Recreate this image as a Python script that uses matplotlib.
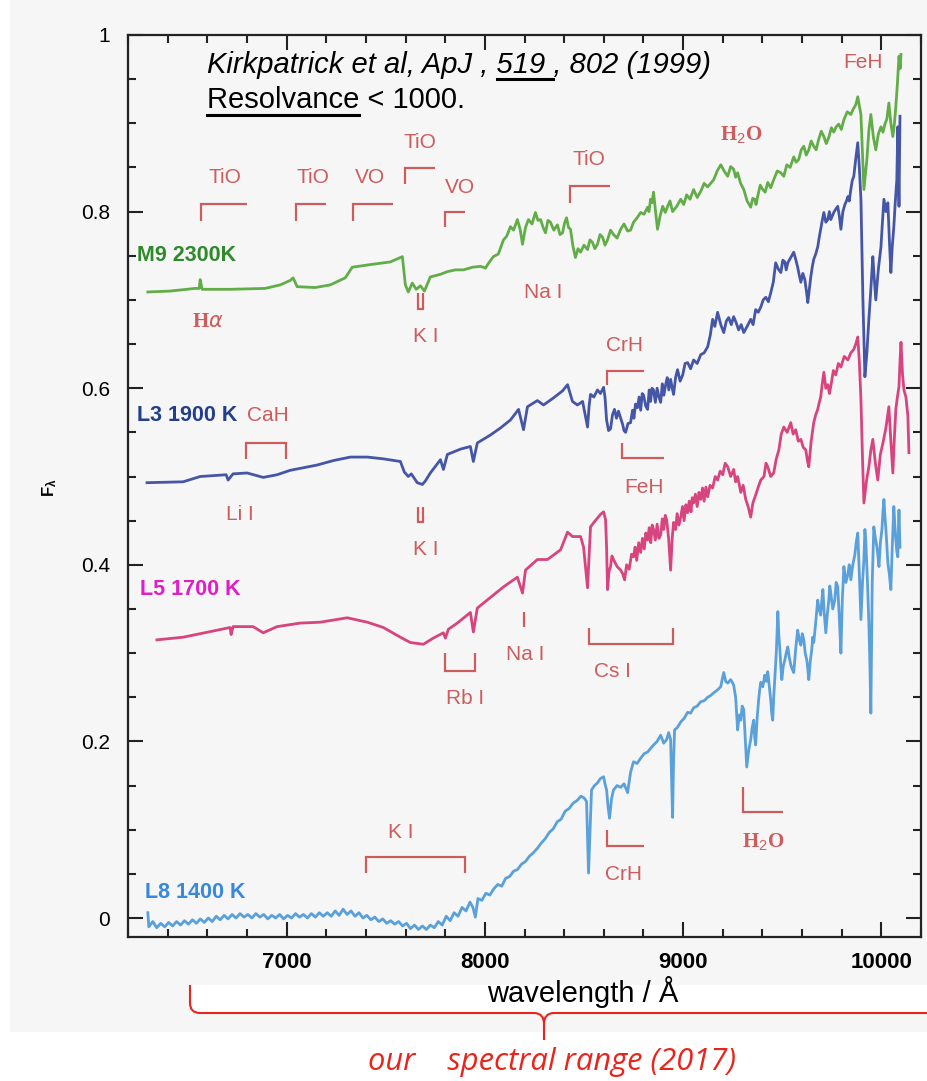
import matplotlib
matplotlib.use("Agg")
import matplotlib.pyplot as plt
from matplotlib.patches import Rectangle, PathPatch
from matplotlib.path import Path
from matplotlib.lines import Line2D
from matplotlib.ticker import MultipleLocator, FuncFormatter

plt.rcParams['font.family'] = ['Liberation Sans', 'DejaVu Sans']
plt.rcParams['mathtext.fontset'] = 'custom'
plt.rcParams['mathtext.rm'] = 'Liberation Sans'
plt.rcParams['mathtext.bf'] = 'Liberation Sans:bold'

# ---------------- spectra: (wavelength [Angstrom], normalised flux) ----------------
m9_spec = [
    (6300, 0.709), (6412, 0.710), (6538, 0.713), (6559, 0.713), (6564, 0.723), (6574, 0.712),
    (6715, 0.712), (6892, 0.713), (6968, 0.717), (7018, 0.722), (7033, 0.725), (7053, 0.715),
    (7144, 0.714), (7220, 0.717), (7296, 0.725), (7331, 0.737), (7422, 0.740), (7523, 0.743),
    (7584, 0.749), (7599, 0.717), (7614, 0.709), (7634, 0.719), (7654, 0.712), (7675, 0.716),
    (7695, 0.710), (7725, 0.726), (7776, 0.729), (7811, 0.732), (7851, 0.734), (7892, 0.734),
    (7937, 0.737), (7978, 0.738),
    (8003, 0.736), (8020, 0.742), (8043, 0.749), (8068, 0.752), (8094, 0.768), (8110, 0.772),
    (8129, 0.783), (8145, 0.779), (8164, 0.791), (8178, 0.780), (8190, 0.763), (8205, 0.782),
    (8220, 0.791), (8238, 0.786), (8255, 0.799), (8268, 0.790), (8281, 0.791), (8294, 0.782),
    (8306, 0.776), (8318, 0.790), (8331, 0.788), (8348, 0.779), (8366, 0.785), (8379, 0.774),
    (8392, 0.776), (8402, 0.787), (8412, 0.793), (8422, 0.782), (8432, 0.780), (8445, 0.760),
    (8457, 0.748), (8470, 0.758), (8483, 0.754), (8500, 0.762), (8518, 0.757), (8530, 0.768),
    (8543, 0.765), (8555, 0.758), (8568, 0.763), (8581, 0.774), (8594, 0.771), (8606, 0.762),
    (8619, 0.768), (8634, 0.779), (8649, 0.774), (8667, 0.770), (8685, 0.780), (8702, 0.786),
    (8720, 0.778), (8735, 0.779), (8750, 0.788), (8768, 0.793), (8786, 0.799), (8803, 0.797),
    (8821, 0.805), (8828, 0.800), (8836, 0.814), (8843, 0.810), (8851, 0.822), (8861, 0.800),
    (8871, 0.780), (8884, 0.795), (8897, 0.806), (8910, 0.799), (8922, 0.806), (8934, 0.812),
    (8947, 0.800), (8968, 0.806), (8988, 0.814), (9003, 0.808), (9018, 0.819), (9035, 0.814),
    (9053, 0.825), (9071, 0.816), (9089, 0.823), (9106, 0.832), (9124, 0.828), (9139, 0.832),
    (9154, 0.836), (9172, 0.846), (9190, 0.853), (9207, 0.846), (9225, 0.840), (9240, 0.851),
    (9255, 0.848), (9265, 0.839), (9275, 0.844), (9290, 0.832), (9306, 0.825), (9323, 0.812),
    (9341, 0.805), (9351, 0.815), (9361, 0.814), (9368, 0.808), (9376, 0.817), (9389, 0.830),
    (9402, 0.825), (9414, 0.822), (9427, 0.833), (9442, 0.827), (9457, 0.836), (9475, 0.846),
    (9493, 0.844), (9508, 0.840), (9523, 0.853), (9540, 0.850), (9558, 0.862), (9570, 0.856),
    (9583, 0.859), (9596, 0.870), (9609, 0.874), (9621, 0.864), (9634, 0.870), (9646, 0.880),
    (9659, 0.874), (9671, 0.870), (9684, 0.882), (9697, 0.891), (9710, 0.885), (9722, 0.877),
    (9735, 0.884), (9748, 0.895), (9760, 0.890), (9772, 0.896), (9785, 0.899), (9798, 0.893),
    (9811, 0.904), (9828, 0.913), (9846, 0.910), (9858, 0.916), (9871, 0.921), (9881, 0.930),
    (9897, 0.910), (9912, 0.825), (9927, 0.859), (9937, 0.892), (9947, 0.910), (9960, 0.884),
    (9972, 0.870), (9985, 0.888), (9998, 0.896), (10008, 0.890), (10018, 0.899), (10028, 0.905),
    (10038, 0.923), (10048, 0.900), (10058, 0.885), (10066, 0.900), (10073, 0.919),
    (10081, 0.945), (10089, 0.976), (10095, 0.962), (10099, 0.978),
]

l3_spec = [
    (6296, 0.493), (6478, 0.494), (6564, 0.500), (6695, 0.502), (6705, 0.496), (6730, 0.503),
    (6801, 0.504), (6882, 0.499), (6952, 0.502), (7018, 0.507), (7154, 0.513), (7235, 0.518),
    (7321, 0.522), (7407, 0.522), (7488, 0.520), (7574, 0.517), (7594, 0.505), (7614, 0.500),
    (7629, 0.503), (7659, 0.493), (7685, 0.491), (7700, 0.495), (7725, 0.504), (7776, 0.519),
    (7791, 0.508), (7811, 0.525), (7877, 0.531), (7927, 0.534), (7942, 0.517), (7962, 0.538),
    (8028, 0.547), (8079, 0.555), (8129, 0.564), (8170, 0.576), (8195, 0.553), (8215, 0.579),
    (8265, 0.586), (8296, 0.581), (8346, 0.589), (8392, 0.597), (8417, 0.604), (8442, 0.585),
    (8467, 0.581), (8493, 0.585),
    (8518, 0.556), (8526, 0.580), (8533, 0.593), (8550, 0.590), (8568, 0.598), (8583, 0.594),
    (8599, 0.601), (8606, 0.590), (8614, 0.564), (8624, 0.552), (8634, 0.554), (8644, 0.570),
    (8654, 0.576), (8664, 0.566), (8674, 0.574), (8685, 0.566), (8695, 0.559), (8702, 0.552),
    (8710, 0.550), (8722, 0.560), (8735, 0.561), (8745, 0.575), (8752, 0.566), (8760, 0.582),
    (8770, 0.578), (8778, 0.590), (8786, 0.575), (8794, 0.594), (8801, 0.592), (8811, 0.580),
    (8821, 0.576), (8829, 0.598), (8836, 0.585), (8843, 0.600), (8851, 0.598), (8860, 0.584),
    (8869, 0.600), (8878, 0.590), (8887, 0.584), (8895, 0.605), (8903, 0.592), (8912, 0.604),
    (8920, 0.612), (8928, 0.598), (8937, 0.610), (8945, 0.600), (8952, 0.593), (8962, 0.612),
    (8972, 0.621), (8985, 0.608), (8998, 0.615), (9010, 0.628), (9023, 0.629), (9038, 0.622),
    (9053, 0.632), (9071, 0.628), (9089, 0.638), (9106, 0.640), (9124, 0.647), (9137, 0.660),
    (9149, 0.678), (9160, 0.670), (9174, 0.686), (9190, 0.672), (9205, 0.663), (9218, 0.676),
    (9230, 0.680), (9243, 0.672), (9255, 0.681), (9268, 0.674), (9280, 0.666), (9293, 0.672),
    (9306, 0.663), (9323, 0.670), (9341, 0.678), (9353, 0.672), (9366, 0.689), (9379, 0.686),
    (9392, 0.692), (9404, 0.700), (9417, 0.703), (9430, 0.698), (9442, 0.708), (9455, 0.720),
    (9467, 0.742), (9480, 0.735), (9493, 0.731), (9503, 0.745), (9513, 0.743), (9520, 0.734),
    (9528, 0.742), (9543, 0.748), (9558, 0.754), (9568, 0.746), (9578, 0.737), (9586, 0.728),
    (9594, 0.720), (9604, 0.730), (9614, 0.723), (9622, 0.710), (9629, 0.697), (9637, 0.712),
    (9644, 0.726), (9652, 0.738), (9659, 0.746), (9669, 0.752), (9679, 0.760), (9686, 0.770),
    (9694, 0.780), (9702, 0.790), (9710, 0.799), (9720, 0.788), (9730, 0.791), (9738, 0.800),
    (9745, 0.791), (9762, 0.800), (9780, 0.806), (9788, 0.795), (9796, 0.780), (9806, 0.800),
    (9816, 0.808), (9824, 0.812), (9831, 0.817), (9838, 0.812), (9846, 0.825), (9853, 0.835),
    (9861, 0.840), (9871, 0.860), (9881, 0.878), (9889, 0.850), (9897, 0.814), (9907, 0.700),
    (9917, 0.613), (9927, 0.640), (9937, 0.678), (9947, 0.712), (9957, 0.749), (9964, 0.725),
    (9972, 0.700), (9985, 0.735), (9998, 0.760), (10006, 0.790), (10013, 0.814),
    (10023, 0.800), (10033, 0.810), (10040, 0.770), (10048, 0.731), (10055, 0.760),
    (10063, 0.783), (10070, 0.810), (10078, 0.836), (10083, 0.896), (10089, 0.806),
    (10094, 0.908),
]

l5_spec = [
    (6346, 0.315), (6478, 0.318), (6649, 0.326), (6715, 0.329), (6720, 0.321), (6730, 0.330),
    (6831, 0.330), (6882, 0.323), (6952, 0.330), (7069, 0.334), (7170, 0.335), (7306, 0.340),
    (7407, 0.335), (7488, 0.329), (7574, 0.318), (7624, 0.312), (7690, 0.310), (7740, 0.317),
    (7791, 0.323), (7801, 0.317), (7816, 0.327), (7861, 0.334), (7927, 0.346), (7942, 0.324),
    (7962, 0.351), (8028, 0.363), (8094, 0.375), (8164, 0.386), (8190, 0.368), (8205, 0.394),
    (8265, 0.406), (8316, 0.406), (8382, 0.417), (8417, 0.437), (8442, 0.432), (8483, 0.432),
    (8498, 0.420), (8518, 0.374),
    (8533, 0.443), (8550, 0.448), (8568, 0.453), (8583, 0.457), (8599, 0.460), (8609, 0.451),
    (8614, 0.420), (8619, 0.372), (8626, 0.392), (8634, 0.398), (8641, 0.410), (8649, 0.406),
    (8667, 0.398), (8685, 0.394), (8695, 0.390), (8705, 0.383), (8715, 0.400), (8728, 0.395),
    (8740, 0.412), (8750, 0.409), (8758, 0.420), (8766, 0.405), (8776, 0.425), (8786, 0.414),
    (8795, 0.430), (8804, 0.418), (8812, 0.436), (8821, 0.428), (8829, 0.442), (8837, 0.425),
    (8844, 0.445), (8851, 0.440), (8860, 0.428), (8869, 0.446), (8878, 0.430), (8887, 0.434),
    (8895, 0.452), (8902, 0.440), (8910, 0.456), (8917, 0.451), (8927, 0.430), (8937, 0.394),
    (8945, 0.430), (8952, 0.448), (8962, 0.440), (8970, 0.458), (8979, 0.445), (8988, 0.454),
    (8997, 0.466), (9005, 0.450), (9014, 0.468), (9023, 0.459), (9031, 0.472), (9040, 0.460),
    (9046, 0.476), (9053, 0.470), (9062, 0.480), (9071, 0.466), (9080, 0.482), (9089, 0.474),
    (9098, 0.487), (9106, 0.472), (9115, 0.488), (9124, 0.477), (9136, 0.490), (9149, 0.487),
    (9162, 0.500), (9174, 0.496), (9187, 0.506), (9200, 0.502), (9212, 0.515), (9225, 0.511),
    (9240, 0.500), (9255, 0.508), (9265, 0.494), (9275, 0.500), (9291, 0.482), (9303, 0.490),
    (9316, 0.474), (9328, 0.466), (9341, 0.454), (9352, 0.470), (9366, 0.479), (9379, 0.488),
    (9392, 0.496), (9408, 0.500), (9418, 0.515), (9427, 0.511), (9442, 0.500), (9457, 0.504),
    (9470, 0.520), (9483, 0.530), (9495, 0.548), (9508, 0.556), (9525, 0.550), (9543, 0.561),
    (9555, 0.548), (9568, 0.553), (9581, 0.540), (9594, 0.542), (9606, 0.533), (9619, 0.530),
    (9627, 0.518), (9634, 0.511), (9646, 0.540), (9659, 0.561), (9669, 0.570), (9679, 0.576),
    (9686, 0.583), (9694, 0.590), (9702, 0.605), (9710, 0.618), (9720, 0.600), (9730, 0.604),
    (9738, 0.594), (9745, 0.602), (9758, 0.620), (9770, 0.615), (9783, 0.628), (9796, 0.624),
    (9813, 0.636), (9831, 0.632), (9846, 0.640), (9861, 0.644), (9871, 0.650), (9881, 0.658),
    (9889, 0.630), (9897, 0.587), (9905, 0.520), (9912, 0.470), (9925, 0.495), (9937, 0.511),
    (9947, 0.530), (9957, 0.542), (9970, 0.515), (9982, 0.496), (9995, 0.525), (10008, 0.538),
    (10023, 0.555), (10038, 0.579), (10048, 0.540), (10058, 0.504), (10066, 0.545),
    (10073, 0.576), (10081, 0.590), (10089, 0.602), (10094, 0.630), (10099, 0.652),
    (10107, 0.615), (10114, 0.598), (10124, 0.590), (10134, 0.568), (10139, 0.527),
]

l8_spec = [
    (6300, 0.006), (6305, -0.010), (6325, -0.004), (6345, -0.011), (6365, -0.006),
    (6385, -0.010), (6405, -0.005), (6425, -0.009), (6445, -0.004), (6465, -0.008),
    (6485, -0.003), (6505, -0.007), (6525, -0.002), (6545, -0.006), (6565, -0.001),
    (6585, -0.005), (6605, 0.000), (6625, -0.004), (6645, 0.002), (6665, -0.002),
    (6685, 0.003), (6705, -0.001), (6725, 0.004), (6745, 0.000), (6765, 0.005),
    (6785, 0.001), (6805, 0.004), (6825, 0.000), (6845, 0.005), (6865, 0.001),
    (6885, 0.004), (6905, -0.001), (6925, 0.003), (6945, 0.000), (6965, 0.004),
    (6985, -0.001), (7005, 0.003), (7025, 0.000), (7045, 0.005), (7065, 0.001),
    (7085, 0.004), (7105, 0.000), (7125, 0.005), (7145, 0.001), (7165, 0.006),
    (7185, 0.002), (7205, 0.006), (7225, 0.002), (7245, 0.008), (7265, 0.003),
    (7285, 0.010), (7305, 0.004), (7325, 0.008), (7345, 0.002), (7365, 0.006),
    (7385, 0.000), (7405, 0.003), (7425, -0.002), (7445, 0.001), (7465, -0.004),
    (7485, -0.001), (7505, -0.006), (7525, -0.003), (7545, -0.007), (7565, -0.004),
    (7585, -0.009), (7605, -0.006), (7625, -0.012), (7645, -0.008), (7665, -0.013),
    (7685, -0.009), (7705, -0.013), (7725, -0.008), (7745, -0.011), (7765, -0.004),
    (7785, -0.008), (7805, 0.002), (7825, -0.003), (7845, 0.006), (7865, 0.002),
    (7885, 0.012), (7905, 0.008), (7925, 0.018), (7940, 0.012), (7952, 0.001),
    (7965, 0.022), (7985, 0.020), (8005, 0.028), (8025, 0.026), (8045, 0.033),
    (8065, 0.038), (8085, 0.036), (8105, 0.045), (8125, 0.047), (8145, 0.053),
    (8165, 0.055), (8185, 0.061), (8205, 0.064), (8225, 0.070), (8245, 0.074),
    (8265, 0.079), (8285, 0.085), (8305, 0.090), (8325, 0.097), (8345, 0.101),
    (8365, 0.109), (8385, 0.112), (8405, 0.121), (8425, 0.124), (8445, 0.130),
    (8465, 0.133), (8485, 0.138), (8500, 0.136), (8513, 0.132), (8523, 0.051),
    (8538, 0.145), (8553, 0.150), (8568, 0.153), (8583, 0.158), (8599, 0.160), (8606, 0.152),
    (8614, 0.145), (8622, 0.125), (8629, 0.113), (8639, 0.135), (8649, 0.145), (8667, 0.150),
    (8685, 0.148), (8702, 0.152), (8720, 0.142), (8735, 0.165), (8750, 0.177), (8768, 0.175),
    (8786, 0.181), (8803, 0.186), (8821, 0.188), (8836, 0.192), (8851, 0.196), (8869, 0.200),
    (8887, 0.207), (8902, 0.198), (8917, 0.202), (8927, 0.210), (8937, 0.202), (8942, 0.160),
    (8947, 0.114), (8952, 0.180), (8957, 0.213), (8972, 0.216), (8988, 0.222), (9005, 0.226),
    (9023, 0.233), (9038, 0.232), (9053, 0.238), (9071, 0.240), (9089, 0.245), (9106, 0.246),
    (9124, 0.250), (9139, 0.252), (9154, 0.255), (9172, 0.258), (9190, 0.262), (9197, 0.270),
    (9205, 0.278), (9215, 0.268), (9225, 0.266), (9240, 0.270), (9255, 0.264), (9265, 0.250),
    (9275, 0.213), (9283, 0.230), (9291, 0.224), (9298, 0.240), (9306, 0.236), (9313, 0.205),
    (9321, 0.171), (9331, 0.190), (9341, 0.202), (9348, 0.215), (9356, 0.224), (9361, 0.205),
    (9366, 0.196), (9373, 0.225), (9381, 0.247), (9386, 0.258), (9392, 0.267), (9402, 0.262),
    (9412, 0.275), (9420, 0.268), (9427, 0.279), (9435, 0.262), (9442, 0.247), (9447, 0.232),
    (9452, 0.224), (9457, 0.250), (9462, 0.270), (9470, 0.300), (9478, 0.347), (9483, 0.320),
    (9488, 0.304), (9493, 0.285), (9498, 0.270), (9505, 0.285), (9513, 0.292), (9520, 0.300),
    (9528, 0.307), (9535, 0.296), (9543, 0.287), (9550, 0.282), (9558, 0.278), (9568, 0.305),
    (9578, 0.326), (9586, 0.315), (9594, 0.309), (9601, 0.322), (9609, 0.315), (9616, 0.300),
    (9624, 0.292), (9629, 0.282), (9634, 0.270), (9641, 0.290), (9649, 0.304), (9654, 0.318),
    (9659, 0.312), (9669, 0.335), (9679, 0.360), (9686, 0.350), (9694, 0.343), (9700, 0.360),
    (9705, 0.372), (9712, 0.345), (9720, 0.323), (9728, 0.345), (9735, 0.360), (9740, 0.376),
    (9745, 0.368), (9755, 0.350), (9765, 0.360), (9772, 0.380), (9780, 0.375), (9788, 0.340),
    (9796, 0.300), (9803, 0.360), (9811, 0.398), (9821, 0.380), (9831, 0.389), (9838, 0.400),
    (9846, 0.383), (9856, 0.400), (9866, 0.411), (9873, 0.425), (9881, 0.436), (9889, 0.390),
    (9897, 0.338), (9905, 0.380), (9912, 0.406), (9917, 0.440), (9922, 0.425), (9930, 0.380),
    (9937, 0.334), (9942, 0.290), (9947, 0.232), (9954, 0.380), (9962, 0.443), (9970, 0.430),
    (9977, 0.421), (9983, 0.410), (9988, 0.398), (9995, 0.425), (10003, 0.440),
    (10008, 0.460), (10013, 0.474), (10018, 0.455), (10023, 0.440), (10028, 0.420),
    (10033, 0.402), (10040, 0.390), (10048, 0.372), (10055, 0.420), (10063, 0.466),
    (10068, 0.445), (10073, 0.428), (10078, 0.415), (10083, 0.409), (10086, 0.440),
    (10089, 0.462), (10094, 0.420),
]

series_names = ["M9 2300K", "L3 1900 K", "L5 1700 K", "L8 1400 K"]
line_colors = ["#62ad48", "#4556a6", "#d8447e", "#5aa0da"]
name_colors = ["#2f8a2c", "#233f8c", "#e01ec8", "#3a88dc"]

y_ticks = [0, 0.2, 0.4, 0.6, 0.8, 1.0]
x_ticks = [7000, 8000, 9000, 10000]

# ---------------- figure ----------------
W, H = 927, 1081
fig = plt.figure(figsize=(W / 100, H / 100), dpi=100)
fig.patch.set_facecolor("white")


def fx(px):
    return px / W


def fy(py):
    return 1 - py / H


panel = "#f6f6f6"
fig.add_artist(Rectangle((fx(10), fy(985)), fx(917), 985 / H, transform=fig.transFigure,
                         facecolor=panel, edgecolor="none", zorder=0))
fig.add_artist(Rectangle((fx(10), fy(1032)), fx(180), 47 / H, transform=fig.transFigure,
                         facecolor=panel, edgecolor="none", zorder=0))
fig.add_artist(Rectangle((fx(190), fy(1032)), fx(737), 18 / H, transform=fig.transFigure,
                         facecolor=panel, edgecolor="none", zorder=0))

ax = fig.add_axes([fx(128), fy(937), fx(921 - 128), (937 - 35) / H])
ax.set_facecolor("none")
ax.set_xlim(6200, 10200)
ax.set_ylim(-0.0215, 1.0)

for spec, c in zip([m9_spec, l3_spec, l5_spec, l8_spec], line_colors):
    wl, fl = zip(*spec)
    ax.plot(wl, fl, color=c, lw=2.0, solid_joinstyle="round")

ax.set_xticks(x_ticks)
ax.set_yticks(y_ticks)
ax.xaxis.set_minor_locator(MultipleLocator(200))
ax.yaxis.set_minor_locator(MultipleLocator(0.05))
ax.yaxis.set_major_formatter(FuncFormatter(lambda v, p: f"{v:g}"))
ax.tick_params(which="both", direction="in", top=True, right=True, width=1.5, color="#222222")
ax.tick_params(which="major", length=11)
ax.tick_params(which="minor", length=6)
ax.tick_params(axis="y", labelsize=15, pad=13)
ax.tick_params(axis="x", labelsize=16, pad=11)
for lab in ax.get_xticklabels():
    lab.set_fontweight("bold")
for s in ax.spines.values():
    s.set_linewidth(1.6)
    s.set_color("#222222")

# ---------------- series names ----------------
name_pos = [(6245, 0.750), (6245, 0.569), (6261, 0.372), (6286, 0.029)]
for (x, y), n, c in zip(name_pos, series_names, name_colors):
    ax.text(x, y, n, color=c, fontsize=15.5, fontweight="bold", ha="left", va="center")

# ---------------- feature markers ----------------
mk = "#cd5c5c"
mk_kw = dict(color=mk, lw=1.6, solid_capstyle="butt", solid_joinstyle="miter")
txt_kw = dict(color=mk, fontsize=15, ha="center", va="center")

marks = [
    # band heads on M9
    [(6569, 0.789), (6569, 0.809), (6801, 0.809)],
    [(7048, 0.789), (7048, 0.809), (7200, 0.809)],
    [(7336, 0.789), (7336, 0.809), (7538, 0.809)],
    [(7599, 0.831), (7599, 0.849), (7750, 0.849)],
    [(7801, 0.782), (7801, 0.800), (7902, 0.800)],
    [(8427, 0.810), (8427, 0.829), (8629, 0.829)],
    [(7662, 0.708), (7662, 0.690), (7688, 0.690), (7688, 0.708)],
    # L3
    [(6796, 0.520), (6796, 0.538), (6998, 0.538), (6998, 0.520)],
    [(7662, 0.466), (7662, 0.448), (7688, 0.448), (7688, 0.466)],
    [(8614, 0.604), (8614, 0.620), (8801, 0.620)],
    [(8690, 0.538), (8690, 0.521), (8902, 0.521)],
    # L5
    [(7801, 0.300), (7801, 0.280), (7952, 0.280), (7952, 0.300)],
    [(8195, 0.347), (8195, 0.330)],
    [(8523, 0.329), (8523, 0.310), (8947, 0.310), (8947, 0.329)],
    # L8
    [(7402, 0.051), (7402, 0.069), (7902, 0.069), (7902, 0.051)],
    [(8614, 0.100), (8614, 0.082), (8801, 0.082)],
    [(9301, 0.148), (9301, 0.120), (9503, 0.120)],
]
for m in marks:
    xs, ys = zip(*m)
    ax.plot(xs, ys, **mk_kw)

labels = [
    (6690, 0.839, "TiO"), (7134, 0.839, "TiO"), (7422, 0.839, "VO"), (7675, 0.878, "TiO"),
    (7877, 0.827, "VO"), (8523, 0.859, "TiO"), (7700, 0.658, "K I"), (8296, 0.708, "Na I"),
    (9907, 0.969, "FeH"), (6907, 0.569, "CaH"), (6766, 0.457, "Li I"), (7700, 0.417, "K I"),
    (8705, 0.648, "CrH"), (8801, 0.488, "FeH"), (7902, 0.249, "Rb I"), (8205, 0.298, "Na I"),
    (8644, 0.279, "Cs I"), (7574, 0.097, "K I"), (8700, 0.049, "CrH"),
]
for x, y, t in labels:
    ax.text(x, y, t, **txt_kw)

serif_kw = dict(color=mk, fontsize=15, ha="center", va="center", fontweight="bold",
                family="Liberation Serif")
ax.text(6604, 0.675, r"H$\mathit{\alpha}$", **serif_kw)
ax.text(9291, 0.887, r"H$_2$O", **serif_kw)
ax.text(9402, 0.086, r"H$_2$O", **serif_kw)

# ---------------- axis titles ----------------
fig.text(fx(50), fy(488), r"$\mathbf{F_{\lambda}}$", rotation=90, fontsize=12,
         ha="center", va="center")

fig.add_artist(Rectangle((fx(190), fy(1013)), fx(737), 28 / H, transform=fig.transFigure,
                         facecolor="white", edgecolor="none", zorder=0.5))
fig.text(fx(487), fy(1002), "wavelength / Å", fontsize=21, ha="left", va="baseline")

# ---------------- reference note ----------------
renderer = fig.canvas.get_renderer()


def text_width(s, **kw):
    t = fig.text(0, 0, s, **kw)
    w = t.get_window_extent(renderer).width
    t.remove()
    return w


ref_kw = dict(fontsize=21, style="italic")
ref_line = "Kirkpatrick et al, ApJ , 519 , 802 (1999)"
fig.text(fx(207), fy(73), ref_line, ha="left", va="baseline", **ref_kw)
sp = text_width("x x", **ref_kw) - text_width("xx", **ref_kw)
u0 = 207 + text_width("Kirkpatrick et al, ApJ ,", **ref_kw) + sp
u1 = 207 + text_width("Kirkpatrick et al, ApJ , 519", **ref_kw) + sp
fig.add_artist(Line2D([fx(u0), fx(u1)], [fy(79), fy(79)], transform=fig.transFigure,
                      color="black", lw=2.2))

res_kw = dict(fontsize=21)
fig.text(fx(207), fy(108), "Resolvance < 1000.", ha="left", va="baseline", **res_kw)
r1 = 207 + text_width("Resolvance", **res_kw)
fig.add_artist(Line2D([fx(207), fx(r1)], [fy(115), fy(115)], transform=fig.transFigure,
                      color="black", lw=2.2))

# ---------------- spectral range brace ----------------
red = "#e8251c"
pts = [(190, 985), (190, 1003), (190, 1013), (200, 1013), (534, 1013), (544, 1013),
       (544, 1024), (544, 1040), (544, 1024), (544, 1013), (554, 1013), (927, 1013)]
codes = [Path.MOVETO, Path.LINETO, Path.CURVE3, Path.CURVE3, Path.LINETO, Path.CURVE3,
         Path.CURVE3, Path.LINETO, Path.MOVETO, Path.CURVE3, Path.CURVE3, Path.LINETO]
brace = Path([(fx(a), fy(b)) for a, b in pts], codes)
fig.add_artist(PathPatch(brace, transform=fig.transFigure, facecolor="none",
                         edgecolor=red, lw=1.5))

range_text = "our    spectral range (2017)"
rk = dict(style="italic", family=["Open Sans", "DejaVu Sans"])
w20 = text_width(range_text, fontsize=20, **rk)
fig.text(fx(368), fy(1070), range_text, fontsize=20 * 369 / w20, color=red,
         ha="left", va="baseline", **rk)

fig.savefig("out.png", dpi=100, facecolor=fig.get_facecolor())
